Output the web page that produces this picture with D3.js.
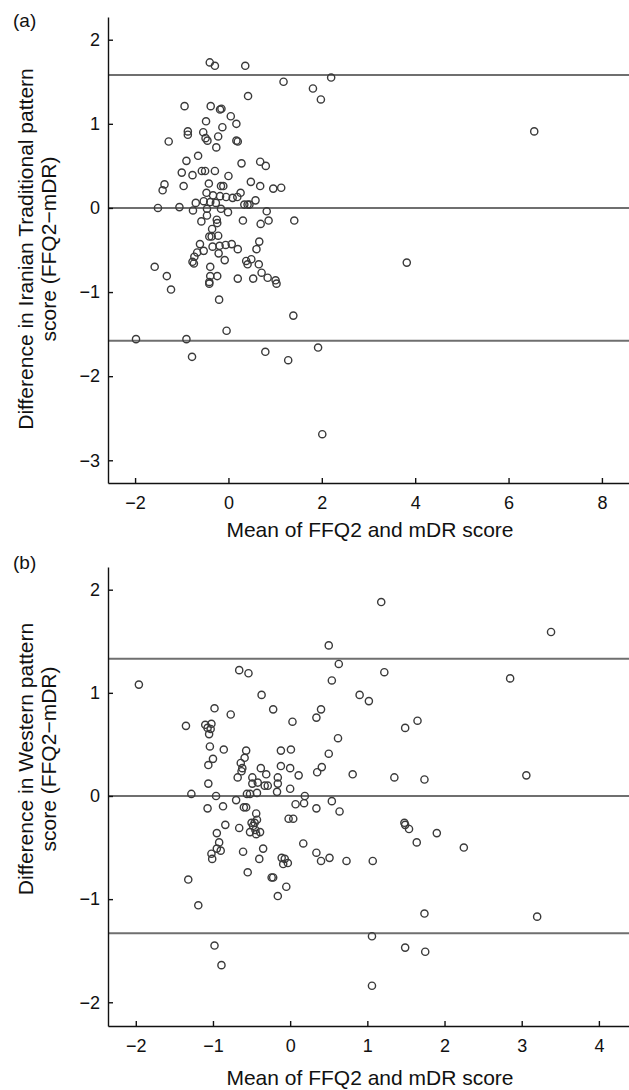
<!DOCTYPE html>
<html>
<head>
<meta charset="utf-8">
<script src="https://cdn.jsdelivr.net/npm/d3@7"></script>
<style>
  html, body { margin: 0; padding: 0; background: #fff; }
  svg { display: block; }
  text { font-family: "Liberation Sans", Arial, Helvetica, sans-serif; fill: #111; }
  .axis path, .axis line { stroke: #111; stroke-width: 1.4; }
  .axis text { font-size: 18px; }
</style>
</head>
<body>
<svg id="chart" width="629" height="1090"></svg>
<script>
// ---- data: [mean of FFQ2 and mDR, FFQ2 - mDR] ----
const pointsA = [
  [-0.40, 1.73], [-0.29, 1.69], [0.36, 1.69], [1.18, 1.50], [1.81, 1.42], [2.20, 1.55], [1.98, 1.29],
  [0.42, 1.33], [6.55, 0.91], [-0.94, 1.21], [-0.38, 1.21], [-0.18, 1.17], [-0.15, 1.18], [0.05, 1.09],
  [0.17, 1.00], [-0.48, 1.03], [-0.13, 0.96], [-0.87, 0.91], [-0.87, 0.87], [-0.54, 0.90], [-0.49, 0.83],
  [-0.45, 0.80], [-0.22, 0.85], [0.17, 0.80], [0.20, 0.79], [-1.28, 0.79], [-0.26, 0.72], [-0.65, 0.62],
  [-0.90, 0.56], [0.28, 0.53], [0.68, 0.55], [0.80, 0.50], [-0.57, 0.44], [-0.50, 0.44], [-0.29, 0.44],
  [-1.00, 0.42], [-0.77, 0.39], [0.00, 0.38], [-1.37, 0.28], [-1.41, 0.21], [-0.96, 0.26], [-0.42, 0.29],
  [-0.16, 0.26], [-0.11, 0.26], [0.48, 0.31], [0.68, 0.26], [0.96, 0.23], [1.13, 0.24], [-0.47, 0.18],
  [-0.33, 0.15], [-0.18, 0.14], [-0.05, 0.13], [0.09, 0.12], [0.19, 0.13], [0.26, 0.18], [0.58, 0.09],
  [0.34, 0.04], [0.41, 0.04], [0.45, 0.04], [-0.70, 0.06], [-0.53, 0.08], [-0.39, 0.07], [-0.27, 0.06],
  [-1.51, 0.00], [-1.05, 0.01], [-0.76, -0.03], [-0.46, -0.01], [-0.16, -0.01], [-0.01, -0.05], [0.82, -0.04],
  [-0.46, -0.09], [-0.58, -0.16], [-0.25, -0.14], [-0.24, -0.18], [0.31, -0.15], [0.69, -0.19], [0.86, -0.15],
  [1.41, -0.15], [-0.35, -0.25], [-0.36, -0.34], [-0.41, -0.34], [-0.22, -0.33], [0.66, -0.40], [-0.61, -0.43],
  [-0.34, -0.46], [-0.19, -0.45], [-0.06, -0.44], [0.07, -0.43], [0.20, -0.49], [-0.53, -0.51], [-0.67, -0.53],
  [-0.21, -0.54], [0.60, -0.49], [-0.73, -0.58], [-0.77, -0.64], [-0.74, -0.66], [-0.08, -0.62], [0.38, -0.63],
  [0.41, -0.67], [0.49, -0.61], [0.65, -0.67], [-1.58, -0.70], [-0.39, -0.70], [0.71, -0.77], [0.84, -0.83],
  [1.01, -0.86], [1.03, -0.90], [-1.32, -0.81], [-0.39, -0.81], [-0.24, -0.81], [-0.41, -0.88], [-0.41, -0.90],
  [0.20, -0.84], [0.53, -0.84], [-1.23, -0.97], [-0.20, -1.09], [1.39, -1.28], [-0.04, -1.46], [-0.90, -1.56],
  [-1.98, -1.56], [-0.78, -1.77], [0.79, -1.71], [1.28, -1.81], [1.92, -1.66], [3.82, -0.65], [2.01, -2.69]
];

const pointsB = [
  [1.18, 1.88], [3.38, 1.59], [0.50, 1.46], [0.63, 1.28], [1.22, 1.20], [-0.66, 1.22], [-0.54, 1.19],
  [0.54, 1.12], [2.85, 1.14], [-1.96, 1.08], [-0.37, 0.98], [0.90, 0.98], [1.02, 0.92], [-0.98, 0.85],
  [-0.77, 0.79], [-0.22, 0.84], [0.40, 0.84], [0.34, 0.76], [0.03, 0.72], [1.49, 0.66], [1.65, 0.73],
  [-1.35, 0.68], [-1.10, 0.69], [-1.02, 0.70], [-1.07, 0.66], [-1.03, 0.65], [-1.05, 0.60], [0.62, 0.56],
  [-1.04, 0.48], [-0.86, 0.45], [-0.57, 0.44], [-0.12, 0.44], [0.01, 0.45], [0.50, 0.41], [-1.00, 0.36],
  [-1.06, 0.30], [-0.59, 0.37], [-0.64, 0.32], [-0.62, 0.27], [-0.63, 0.24], [-0.38, 0.27], [-0.31, 0.21],
  [-0.12, 0.29], [0.00, 0.27], [0.11, 0.20], [0.41, 0.28], [0.35, 0.23], [0.81, 0.21], [1.35, 0.18],
  [1.74, 0.16], [3.06, 0.20], [-0.68, 0.18], [-0.49, 0.18], [-0.16, 0.18], [-1.06, 0.12], [-0.49, 0.12],
  [-0.42, 0.13], [-0.33, 0.10], [-0.29, 0.10], [-0.16, 0.12], [0.00, 0.07], [-1.28, 0.02], [-0.96, 0.00],
  [-0.70, -0.04], [-0.56, 0.02], [-0.52, 0.02], [-0.43, 0.03], [-0.17, 0.04], [0.19, 0.00], [0.54, -0.05],
  [-1.07, -0.12], [-0.87, -0.10], [-0.60, -0.11], [-0.57, -0.11], [0.07, -0.08], [0.18, -0.07], [0.34, -0.12],
  [0.64, -0.15], [-0.44, -0.17], [-0.43, -0.23], [-0.02, -0.22], [0.04, -0.22], [-0.84, -0.28], [-0.66, -0.31],
  [-0.50, -0.26], [-0.46, -0.26], [-0.48, -0.29], [-0.52, -0.35], [-0.45, -0.33], [-0.44, -0.37], [-0.39, -0.35],
  [-0.95, -0.36], [-0.92, -0.45], [-0.95, -0.51], [-0.90, -0.53], [-1.02, -0.56], [-1.01, -0.61], [-0.61, -0.54],
  [-0.35, -0.51], [-0.40, -0.61], [-0.55, -0.74], [-0.11, -0.60], [-0.07, -0.61], [-0.09, -0.66], [-0.03, -0.65],
  [0.17, -0.46], [0.34, -0.55], [0.40, -0.63], [0.51, -0.60], [0.73, -0.63], [1.07, -0.63], [1.48, -0.26],
  [1.49, -0.28], [1.54, -0.32], [1.90, -0.36], [1.64, -0.45], [2.25, -0.50], [-0.24, -0.79], [-0.22, -0.79],
  [-0.05, -0.88], [-0.16, -0.97], [-1.32, -0.81], [-1.19, -1.06], [1.74, -1.14], [3.20, -1.17], [1.06, -1.36],
  [-0.98, -1.45], [-0.89, -1.64], [1.49, -1.47], [1.75, -1.51], [1.06, -1.84]
];

// mean difference and limits of agreement
const linesA = [-1.58, 0, 1.58];
const linesB = [-1.33, 0, 1.33];

const xTicksA = [-2, 0, 2, 4, 6, 8];
const yTicksA = [-3, -2, -1, 0, 1, 2];
const xTicksB = [-2, -1, 0, 1, 2, 3, 4];
const yTicksB = [-2, -1, 0, 1, 2];

const xDomainA = [-2.58, 8.58], yDomainA = [-3.27, 2.27];
const xDomainB = [-2.36, 4.39], yDomainB = [-2.23, 2.22];

const svg = d3.select("#chart");
const fmt = d3.format("d");

function drawPanel(cfg) {
  const g = svg.append("g");
  const x = d3.scaleLinear().domain(cfg.xDomain).range([cfg.left, cfg.right]);
  const y = d3.scaleLinear().domain(cfg.yDomain).range([cfg.bottom, cfg.top]);

  // reference lines
  g.selectAll("line.ref").data(cfg.lines).join("line")
    .attr("class", "ref")
    .attr("x1", cfg.left).attr("x2", cfg.right)
    .attr("y1", d => y(d)).attr("y2", d => y(d))
    .attr("stroke", "#6f6f6f").attr("stroke-width", 2);

  // points
  g.selectAll("circle").data(cfg.points).join("circle")
    .attr("cx", d => x(d[0])).attr("cy", d => y(d[1]))
    .attr("r", 3.6)
    .attr("fill", "none").attr("stroke", "#3a3a3a").attr("stroke-width", 1.4);

  // axes, ticks pointing inward
  g.append("g").attr("class", "axis")
    .attr("transform", `translate(0,${cfg.bottom})`)
    .call(d3.axisBottom(x).tickValues(cfg.xTicks).tickFormat(fmt)
      .tickSizeInner(-5).tickSizeOuter(0).tickPadding(13));
  g.append("g").attr("class", "axis")
    .attr("transform", `translate(${cfg.left},0)`)
    .call(d3.axisLeft(y).tickValues(cfg.yTicks).tickFormat(fmt)
      .tickSizeInner(-5).tickSizeOuter(0).tickPadding(8));

  g.append("text")
    .attr("x", cfg.titleX).attr("y", cfg.titleY)
    .attr("text-anchor", "middle").style("font-size", "21px")
    .text("Mean of FFQ2 and mDR score");

  const yl = g.append("text")
    .attr("transform", `translate(0,${cfg.ylabelY}) rotate(-90)`)
    .attr("text-anchor", "middle").style("font-size", "21px");
  yl.append("tspan").attr("x", 0).attr("y", 33).text(cfg.ylabel[0]);
  yl.append("tspan").attr("x", 0).attr("y", 56).text(cfg.ylabel[1]);

  g.append("text")
    .attr("x", 13).attr("y", cfg.tagY)
    .style("font-size", "19px")
    .text(cfg.tag);
}

drawPanel({
  points: pointsA, lines: linesA, xTicks: xTicksA, yTicks: yTicksA,
  xDomain: xDomainA, yDomain: yDomainA,
  left: 108, right: 629, top: 17, bottom: 483,
  titleX: 370, titleY: 537, ylabelY: 249, tagY: 27, tag: "(a)",
  ylabel: ["Difference in Iranian Traditional pattern", "score (FFQ2\u2212mDR)"]
});

drawPanel({
  points: pointsB, lines: linesB, xTicks: xTicksB, yTicks: yTicksB,
  xDomain: xDomainB, yDomain: yDomainB,
  left: 108, right: 629, top: 567, bottom: 1026,
  titleX: 370, titleY: 1085, ylabelY: 759, tagY: 569, tag: "(b)",
  ylabel: ["Difference in Western pattern", "score (FFQ2\u2212mDR)"]
});
</script>
</body>
</html>
